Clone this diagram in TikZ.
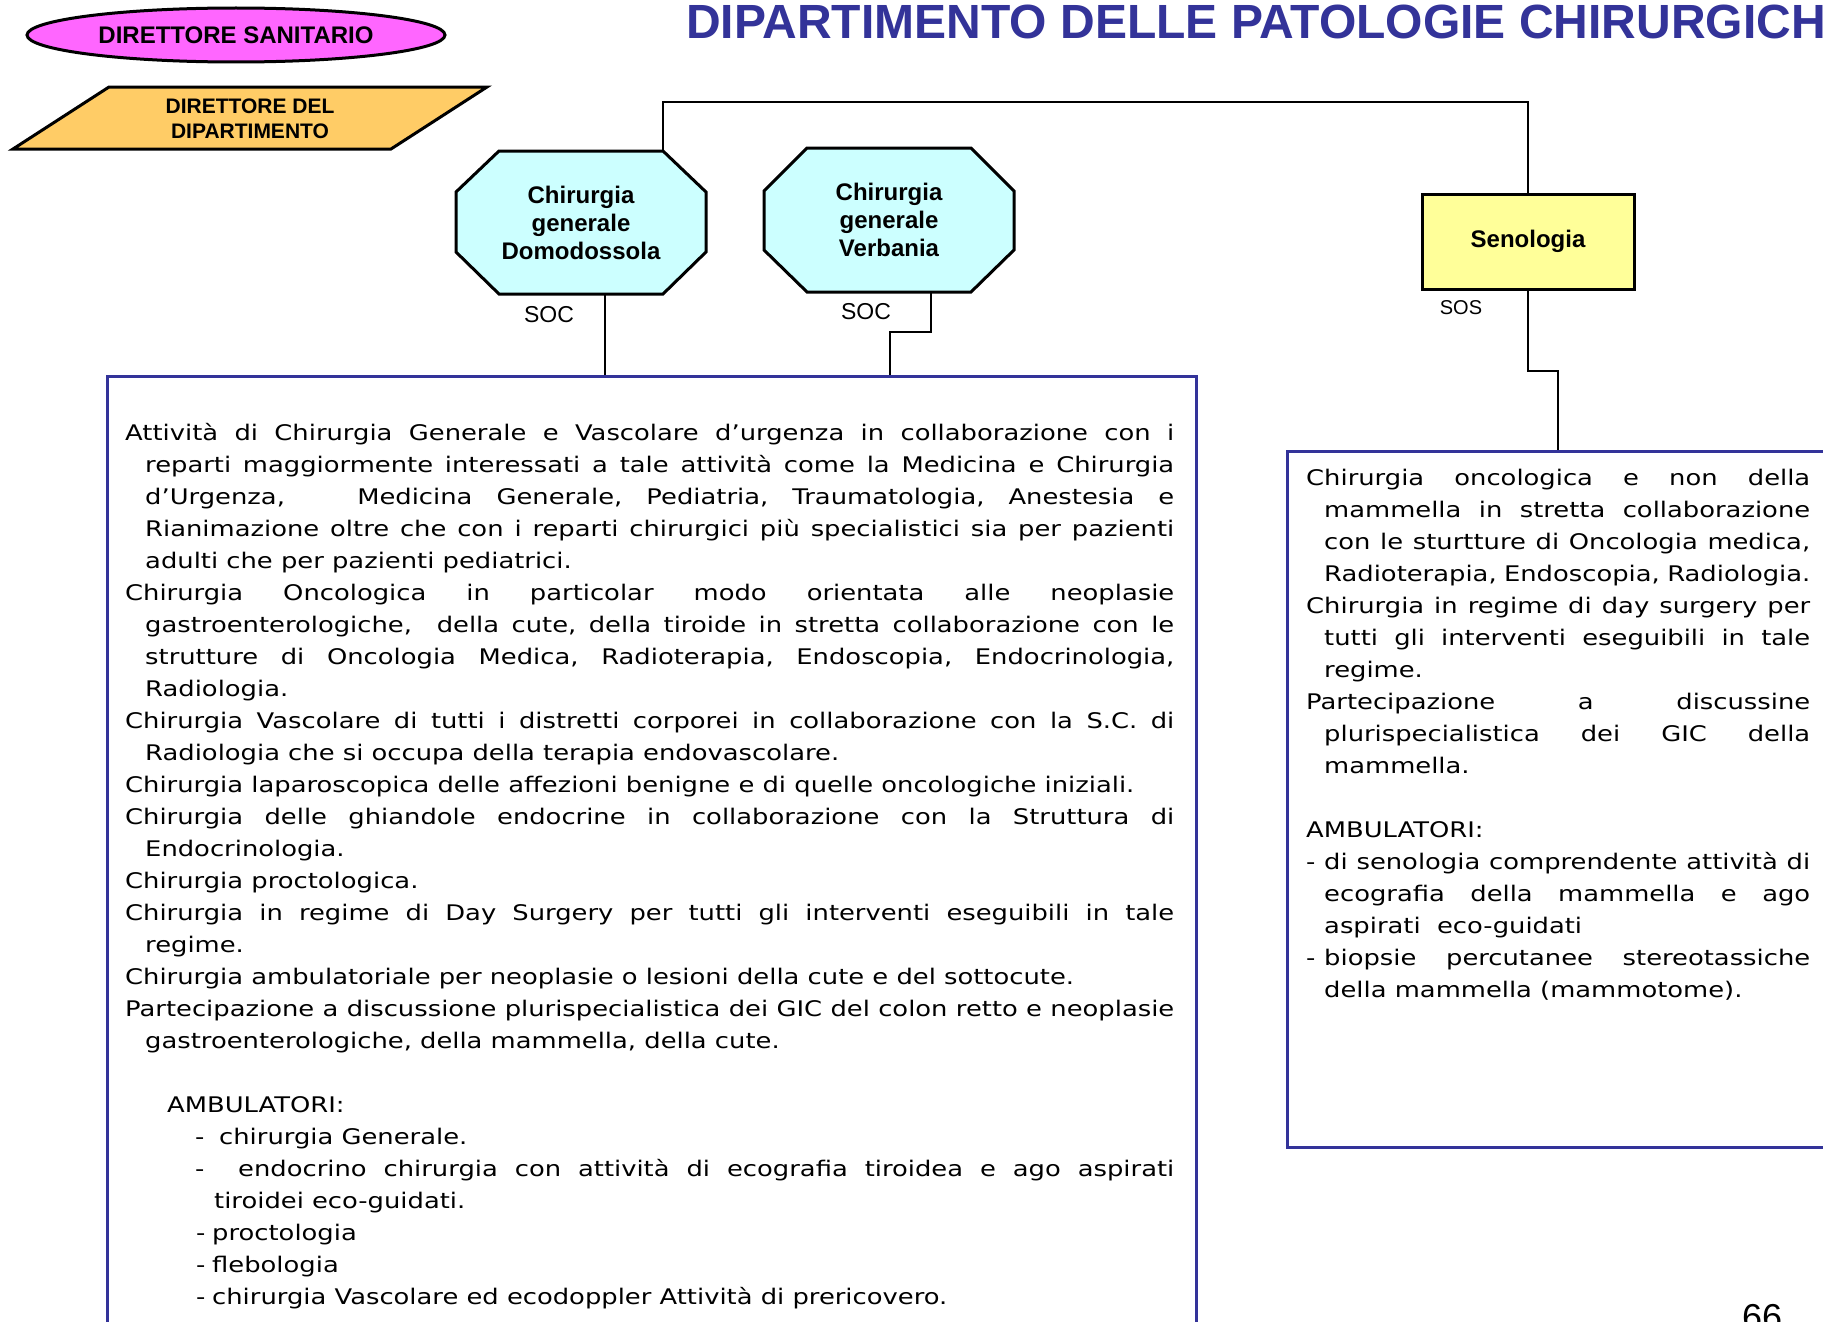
\documentclass[tikz,border=0pt]{standalone}
\usepackage{fontspec}
\usetikzlibrary{shapes.geometric,calc}
\newfontfamily\bodyf{DejaVu Sans}[FakeStretch=1.2]
\newfontfamily\arialf{Liberation Sans}
\definecolor{dsmag}{HTML}{FF66FF}
\definecolor{dirorange}{HTML}{FFCC66}
\definecolor{soccyan}{HTML}{CCFFFF}
\definecolor{sosyellow}{HTML}{FFFF99}
\definecolor{dblue}{HTML}{333399}
\newcommand\JF[1]{\makebox[\linewidth][s]{#1}\par}
\newcommand\JH[2][20pt]{\hspace*{#1}\makebox[\dimexpr\linewidth-#1\relax][s]{#2}\par}
\newcommand\LF[1]{#1\par}
\newcommand\LH[2][20pt]{\hspace*{#1}#2\par}
\begin{document}
\begin{tikzpicture}[x=1pt,y=-1pt,
  conn/.style={draw=black, line width=2pt},
  octoline/.style={draw=black, line width=3pt, fill=soccyan, line join=miter},
  octo/.style={minimum width=250pt, minimum height=143pt,
    inner sep=0pt, align=center, font=\arialf\bfseries\fontsize{24}{28}\selectfont},
  bluebox/.style={draw=dblue, line width=3pt, anchor=north west, inner sep=0pt},
  lbl/.style={font=\arialf\fontsize{23}{26}\selectfont, inner sep=0pt},
  bodytext/.style={anchor=base west, inner sep=0pt}
]
\useasboundingbox (0,0) rectangle (1823,1322);

% boxes
\node[bluebox, minimum width=1089pt, minimum height=965pt] (leftbox) at (106,375) {};
\node[bluebox, minimum width=560pt, minimum height=696pt] (rightbox) at (1286,450) {};

% head shapes
\node[ellipse, draw=black, line width=3pt, fill=dsmag, minimum width=418pt, minimum height=54pt,
  inner sep=0pt, font=\arialf\bfseries\fontsize{24}{28}\selectfont] (dirsan) at (236,35) {DIRETTORE SANITARIO};
\draw[line width=3pt, fill=dirorange] (109,87) -- (487,87) -- (391,149) -- (13,149) -- cycle;
\node[align=center, inner sep=0pt, font=\arialf\bfseries\fontsize{21}{25}\selectfont] (dirdip) at (250,118.5) {DIRETTORE DEL\\DIPARTIMENTO};
\node[anchor=base west, inner sep=0pt, text=dblue, font=\arialf\bfseries\fontsize{48}{50}\selectfont] (title) at (686,39) {DIPARTIMENTO DELLE PATOLOGIE CHIRURGICH};

% octagons
\draw[octoline] (499,151) -- (663,151) -- (706,192) -- (706,252) -- (663,294) -- (499,294) -- (456,252) -- (456,192) -- cycle;
\draw[octoline] (807,148) -- (971,148) -- (1014,191) -- (1014,250) -- (971,292) -- (807,292) -- (764,250) -- (764,191) -- cycle;
\node[octo] (domo) at (581,222.5) {Chirurgia\\generale\\Domodossola};
\node[octo] (verb) at (889,220) {Chirurgia\\generale\\Verbania};
\node[draw=black, line width=3pt, fill=sosyellow, minimum width=212pt, minimum height=95pt,
  font=\arialf\bfseries\fontsize{24}{28}\selectfont] (seno) at (1528,241.5) {Senologia};

\node[lbl] (soc1) at (549,315) {SOC};
\node[lbl] (soc2) at (866,312) {SOC};
\node[lbl, font=\arialf\fontsize{20}{24}\selectfont] (sos) at (1461,308) {SOS};

% connectors
\coordinate (d0) at ([xshift=82pt]domo.north);
\draw[conn] (d0) -- ++(0,-49) -| (seno.north);
\coordinate (d1) at ([xshift=24pt]domo.south);
\draw[conn] (d1) -- (d1 |- leftbox.north);
\coordinate (v1) at ([xshift=42pt]verb.south);
\coordinate (v2) at ([xshift=1pt]verb.south);
\draw[conn] (v1) -- ++(0,40) -| (v2 |- leftbox.north);
\coordinate (s2) at ([xshift=30pt]seno.south);
\draw[conn] (seno.south) -- ++(0,80) -| (s2 |- rightbox.north);

% left text
\node[bodytext] (lefttext) at (125,440) {\begin{minipage}[t]{1049pt}\bodyf\fontsize{21.5}{32}\selectfont\frenchspacing
\JF{Attività di Chirurgia Generale e Vascolare d’urgenza in collaborazione con i}
\JH{reparti maggiormente interessati a tale attività come la Medicina e Chirurgia}
\JH{d’Urgenza,\ \ \ Medicina Generale, Pediatria, Traumatologia, Anestesia e}
\JH{Rianimazione oltre che con i reparti chirurgici più specialistici sia per pazienti}
\LH{adulti che per pazienti pediatrici.}
\JF{Chirurgia Oncologica in particolar modo orientata alle neoplasie}
\JH{gastroenterologiche,\ \ della cute, della tiroide in stretta collaborazione con le}
\JH{strutture di Oncologia Medica, Radioterapia, Endoscopia, Endocrinologia,}
\LH{Radiologia.}
\JF{Chirurgia Vascolare di tutti i distretti corporei in collaborazione con la S.C. di}
\LH{Radiologia che si occupa della terapia endovascolare.}
\LF{Chirurgia laparoscopica delle affezioni benigne e di quelle oncologiche iniziali.}
\JF{Chirurgia delle ghiandole endocrine in collaborazione con la Struttura di}
\LH{Endocrinologia.}
\LF{Chirurgia proctologica.}
\JF{Chirurgia in regime di Day Surgery per tutti gli interventi eseguibili in tale}
\LH{regime.}
\LF{Chirurgia ambulatoriale per neoplasie o lesioni della cute e del sottocute.}
\JF{Partecipazione a discussione plurispecialistica dei GIC del colon retto e neoplasie}
\LH{gastroenterologiche, della mammella, della cute.}
\LF{\mbox{}}
\LH[42pt]{AMBULATORI:}
\LH[70pt]{\makebox[24pt][l]{-}chirurgia Generale.}
\hspace*{70pt}\makebox[43pt][l]{-}\makebox[\dimexpr\linewidth-113pt\relax][s]{endocrino chirurgia con attività di ecografia tiroidea e ago aspirati}\par
\LH[89pt]{tiroidei eco-guidati.}
\LH[71pt]{\makebox[16pt][l]{-}proctologia}
\LH[71pt]{\makebox[16pt][l]{-}flebologia}
\LH[71pt]{\makebox[16pt][l]{-}chirurgia Vascolare ed ecodoppler Attività di prericovero.}
\end{minipage}};

% right text
\node[bodytext] (righttext) at (1306,485) {\begin{minipage}[t]{504pt}\bodyf\fontsize{21.5}{32}\selectfont\frenchspacing
\JF{Chirurgia oncologica e non della}
\JH[18pt]{mammella in stretta collaborazione}
\JH[18pt]{con le sturtture di Oncologia medica,}
\JH[18pt]{Radioterapia, Endoscopia, Radiologia.}
\JF{Chirurgia in regime di day surgery per}
\JH[18pt]{tutti gli interventi eseguibili in tale}
\LH[18pt]{regime.}
\JF{Partecipazione a discussine}
\JH[18pt]{plurispecialistica dei GIC della}
\LH[18pt]{mammella.}
\LF{\mbox{}}
\LF{AMBULATORI:}
\LF{\makebox[18pt][l]{-}\makebox[\dimexpr\linewidth-18pt\relax][s]{di senologia comprendente attività di}}
\JH[18pt]{ecografia della mammella e ago}
\LH[18pt]{aspirati\ \ eco-guidati}
\LF{\makebox[18pt][l]{-}\makebox[\dimexpr\linewidth-18pt\relax][s]{biopsie percutanee stereotassiche}}
\LH[18pt]{della mammella (mammotome).}
\end{minipage}};

\node[anchor=base, inner sep=0pt, font=\arialf\fontsize{36}{40}\selectfont] (pagenum) at (1762,1329) {66};
\end{tikzpicture}
\end{document}
